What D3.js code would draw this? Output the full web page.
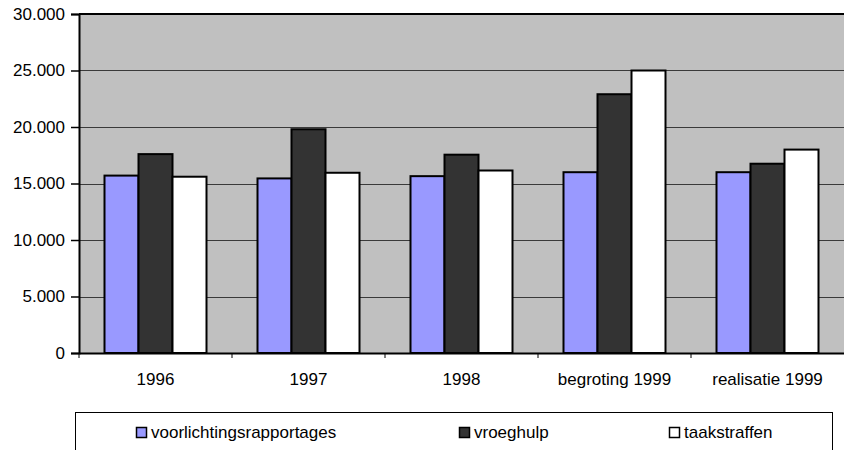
<!DOCTYPE html>
<html lang="nl">
<head>
    <meta charset="UTF-8">
    <title>voorlichtingsrapportages, vroeghulp, taakstraffen</title>
    <script src="https://d3js.org/d3.v7.min.js"></script>
    <style>
        body {
            margin: 0;
            background: #fff;
            font-family: "Liberation Sans", Arial, sans-serif;
        }
        svg text {
            font-family: "Liberation Sans", Arial, sans-serif;
            fill: #000;
        }
    </style>
</head>
<body>
    <svg id="chart" width="844" height="450"></svg>

    <script>
        // data
        const categories = ["1996", "1997", "1998", "begroting 1999", "realisatie 1999"];
        const series = ["voorlichtingsrapportages", "vroeghulp", "taakstraffen"];
        const voorlichting = [15700, 15450, 15650, 16000, 16000];
        const vroeghulp = [17600, 19800, 17550, 22900, 16750];
        const taakstraffen = [15600, 15950, 16150, 25000, 18000];
        const yTicks = [0, 5000, 10000, 15000, 20000, 25000, 30000];
        const colors = ["#9999ff", "#333333", "#ffffff"];

        const values = [voorlichting, vroeghulp, taakstraffen];
        const rows = categories.map((c, i) => ({
            cat: c,
            vals: series.map((s, j) => ({ key: s, value: values[j][i], color: colors[j] }))
        }));

        const plot = { left: 79, top: 14, right: 844, bottom: 353 };

        const svg = d3.select("#chart");
        const nl = d3.formatLocale({ decimal: ",", thousands: ".", grouping: [3], currency: ["€", ""] });
        const fmt = nl.format(",d");

        const x0 = d3.scaleBand().domain(categories).range([plot.left, plot.right]).padding(0);
        const bw = x0.bandwidth();
        const gap = bw - bw / 4.5 * 3;
        const x1 = d3.scaleBand().domain(series).range([gap / 2, bw - gap / 2]).padding(0);
        const y = d3.scaleLinear().domain([0, 30000]).range([plot.bottom, plot.top]);

        // plot background
        svg.append("rect")
            .attr("x", plot.left)
            .attr("y", plot.top)
            .attr("width", plot.right - plot.left)
            .attr("height", plot.bottom - plot.top)
            .attr("fill", "#c0c0c0");

        // gridlines
        svg.append("g")
            .selectAll("line")
            .data(yTicks.filter(d => d > 0 && d < 30000))
            .enter().append("line")
            .attr("x1", plot.left)
            .attr("x2", plot.right)
            .attr("y1", d => Math.round(y(d)) + 0.5)
            .attr("y2", d => Math.round(y(d)) + 0.5)
            .attr("stroke", "#3a3a3a")
            .attr("stroke-width", 1);

        // top border
        svg.append("line")
            .attr("x1", plot.left).attr("x2", plot.right)
            .attr("y1", plot.top).attr("y2", plot.top)
            .attr("stroke", "#000").attr("stroke-width", 2);

        // bars
        const groups = svg.append("g")
            .selectAll("g")
            .data(rows)
            .enter().append("g")
            .attr("transform", d => `translate(${x0(d.cat)},0)`);

        groups.selectAll("rect")
            .data(d => d.vals)
            .enter().append("rect")
            .attr("x", d => x1(d.key))
            .attr("y", d => y(d.value))
            .attr("width", x1.bandwidth())
            .attr("height", d => y(0) - y(d.value))
            .attr("fill", d => d.color)
            .attr("stroke", "#000")
            .attr("stroke-width", 2);

        // y axis
        const yAxis = svg.append("g")
            .attr("transform", `translate(${plot.left},0)`)
            .call(d3.axisLeft(y).tickValues(yTicks).tickFormat(fmt).tickSize(8).tickPadding(6));
        yAxis.select(".domain").attr("stroke", "#000").attr("stroke-width", 2);
        yAxis.selectAll(".tick line").attr("stroke", "#000").attr("stroke-width", 1.5);
        yAxis.selectAll("text").style("font-size", "17px").attr("fill", "#000");

        // x axis
        const xAxis = svg.append("g")
            .attr("transform", `translate(0,${plot.bottom})`)
            .call(d3.axisBottom(x0).tickSize(0).tickPadding(20));
        xAxis.select(".domain").attr("stroke", "#000").attr("stroke-width", 2);
        xAxis.selectAll("text").style("font-size", "17px").attr("fill", "#000");

        // tick marks at category boundaries
        svg.append("g")
            .selectAll("line")
            .data(categories)
            .enter().append("line")
            .attr("x1", d => x0(d))
            .attr("x2", d => x0(d))
            .attr("y1", plot.bottom)
            .attr("y2", plot.bottom + 5)
            .attr("stroke", "#000")
            .attr("stroke-width", 1);

        // legend
        const legend = svg.append("g");
        legend.append("rect")
            .attr("x", 75.5)
            .attr("y", 412.5)
            .attr("width", 757)
            .attr("height", 60)
            .attr("fill", "#fff")
            .attr("stroke", "#000")
            .attr("stroke-width", 1);

        const legendX = [136, 459, 669];
        const items = legend.selectAll("g.item")
            .data(series)
            .enter().append("g")
            .attr("class", "item")
            .attr("transform", (d, i) => `translate(${legendX[i]},427)`);

        items.append("rect")
            .attr("x", 0.5)
            .attr("y", 0.5)
            .attr("width", 10)
            .attr("height", 10)
            .attr("fill", (d, i) => colors[i])
            .attr("stroke", "#000")
            .attr("stroke-width", 1.5);

        items.append("text")
            .attr("x", 15)
            .attr("y", 11)
            .style("font-size", "17px")
            .text(d => d);
    </script>
</body>
</html>
